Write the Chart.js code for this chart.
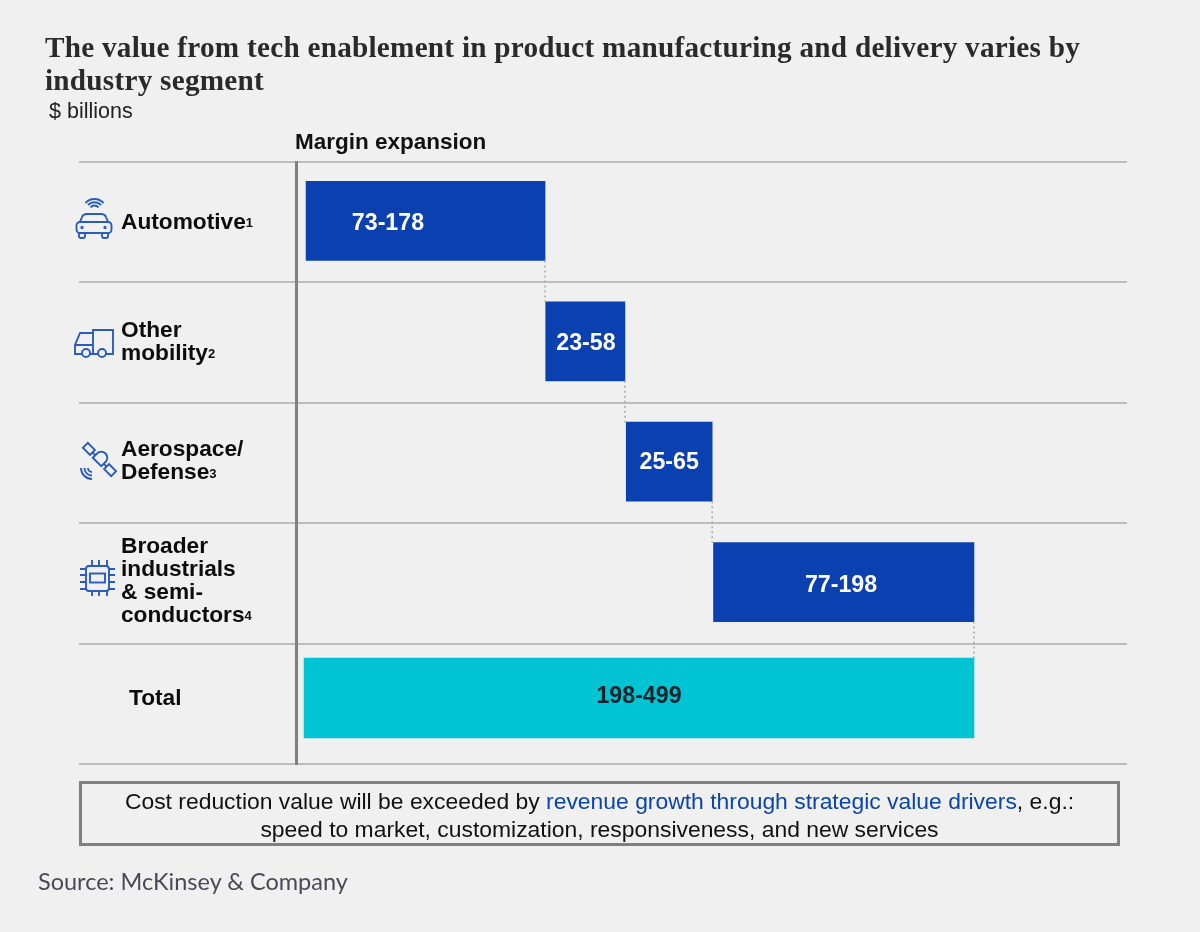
<!DOCTYPE html>
<html>
<head>
<meta charset="utf-8">
<script src="https://cdn.jsdelivr.net/npm/chart.js@4"></script>
<style>
  body { margin: 0; background: #f0f0f0; width: 1200px; height: 932px; overflow: hidden; position: relative; }
  canvas { position: absolute; left: 0; top: 0; }
  .note { position: absolute; white-space: nowrap; font-family: "Liberation Sans", sans-serif; }
  #title { left: 45px; top: 31px; font: bold 29.2px/33px "Liberation Serif", serif; letter-spacing: .26px; color: #2a2a2a; }
  #unit { left: 49px; top: 99px; font-size: 21.5px; color: #222; }
  #head { left: 295px; top: 129px; font-size: 22.5px; font-weight: bold; color: #111; }
  #callout { left: 79px; top: 781px; width: 1035px; height: 56px; border: 3px solid #808080; text-align: center; font-size: 22.9px; line-height: 28px; padding-top: 3px; color: #111; }
  #callout span { color: #0b44ae; }
  #source { left: 38px; top: 867px; font: 23.5px Lato, sans-serif; color: #4a4a57; }
  svg { position: absolute; left: 0; top: 0; }
  svg * { fill: none; stroke: #2a5cbd; stroke-width: 1.9; }
</style>
</head>
<body>
<canvas id="chart" width="1200" height="932"></canvas>
<svg width="1200" height="932" viewBox="0 0 1200 932">
  <!-- car -->
  <path d="M88 205a9 9 0 0 1 13 0M90.500 207.500a5 5 0 0 1 8 0M85.500 203a12 12 0 0 1 18 0"/>
  <path d="M80 222l2-5q1-3 5-3h14q4 0 5 3l2 5"/>
  <rect x="76.500" y="222" width="35" height="11" rx="3.500"/>
  <path d="M79 233v3q0 2 2 2h2q2 0 2-2v-3M102 233v3q0 2 2 2h2q2 0 2-2v-3"/>
  <circle cx="82" cy="227.500" r=".7"/><circle cx="105" cy="227.500" r=".7"/>
  <!-- truck -->
  <path d="M90 354h8M106 354h7v-24h-20v24"/>
  <path d="M82 354h-7v-9l5-12h13M75.500 345h17"/>
  <circle cx="86" cy="353" r="4"/><circle cx="102" cy="353" r="4"/>
  <!-- satellite -->
  <g transform="rotate(45 99.500 459.500)">
    <rect x="79.500" y="456" width="10" height="7"/>
    <rect x="109.500" y="456" width="10" height="7"/>
    <path d="M89.500 459.500h4M105.500 459.500h4"/>
    <path d="M93.500 463v-6a6 6 0 0 1 12 0v6z"/>
  </g>
  <path d="M88 468a4 4 0 0 0 4 4M84.500 468a7.500 7.500 0 0 0 7.500 7.500M81 468a11 11 0 0 0 11 11"/>
  <!-- chip -->
  <rect x="86" y="566" width="23" height="25" rx="3"/>
  <rect x="90" y="573.500" width="15" height="9"/>
  <path d="M80 569h6M80 575h6M80 582h6M80 589h6M109 569h6M109 575h6M109 582h6M109 589h6M92 560v6M99 560v6M107 560v6M92 591v5M99 591v5M107 591v5"/>
</svg>
<div class="note" id="title">The value from tech enablement in product manufacturing and delivery varies by<br>industry segment</div>
<div class="note" id="unit">$ billions</div>
<div class="note" id="head">Margin expansion</div>
<div class="note" id="callout">Cost reduction value will be exceeded by <span>revenue growth through strategic value drivers</span>, e.g.:<br>speed to market, customization, responsiveness, and new services</div>
<div class="note" id="source">Source: McKinsey &amp; Company</div>
<script>
const categories = [["Automotive"], ["Other", "mobility"], ["Aerospace/", "Defense"], ["Broader", "industrials", "& semi-", "conductors"], ["Total"]];
const footnotes = ["1", "2", "3", "4", ""];
const lowValues = [73, 23, 25, 77, 198];
const highValues = [178, 58, 65, 198, 499];
// bar extents, on the $ billions axis
const segmentStart = [1.5, 180, 240, 305];
const segmentEnd = [179.5, 239, 304, 499];
const totalStart = 0;
const totalEnd = 499;
// where each range label sits along the axis
const labelAt = [62.5, 210, 272, 400, 249.5];

const rangeLabels = lowValues.map((v, i) => v + "-" + highValues[i]);
const catFont = 'bold 22.7px "Liberation Sans"';
const barFont = 'bold 23.2px "Liberation Sans"';

const segmentData = segmentStart.map((s, i) => [s, segmentEnd[i]]).concat([null]);
const totalData = [null, null, null, null, [totalStart, totalEnd]];

// small vertical nudges so rows line up with the original
const rowShift = { 0: -1.3, 1: -5.8 };
const barLabelNudge = [2.5, 2, 1, 4, -1];
const catNudge = [0.7, -0.3, -1.3, -2.3, -4.8];

const waterfallPlugin = {
  id: "waterfall",
  beforeDatasetDraw(chart, args) {
    chart.ctx.save();
    chart.ctx.translate(0, rowShift[args.index]);
  },
  afterDatasetDraw(chart, args) {
    const ctx = chart.ctx, x = chart.scales.x, meta = args.meta;
    ctx.font = barFont;
    ctx.textAlign = "center";
    ctx.textBaseline = "middle";
    meta.data.forEach((bar, i) => {
      if (!chart.data.datasets[args.index].data[i]) return;
      ctx.fillStyle = args.index === 0 ? "#ffffff" : "#12222a";
      ctx.fillText(rangeLabels[i], x.getPixelForValue(labelAt[i]), bar.y + barLabelNudge[i]);
    });
    ctx.restore();
  },
  afterDraw(chart) {
    const ctx = chart.ctx, y = chart.scales.y, x = chart.scales.x;
    const seg = chart.getDatasetMeta(0).data, tot = chart.getDatasetMeta(1).data;
    // dotted connectors between the steps
    ctx.save();
    ctx.strokeStyle = "#a8a8a8";
    ctx.lineWidth = 1.5;
    ctx.setLineDash([2, 3]);
    for (let i = 0; i < 4; i++) {
      const next = i < 3 ? seg[i + 1] : tot[4];
      const nextShift = i < 3 ? rowShift[0] : rowShift[1];
      const px = x.getPixelForValue(segmentEnd[i]);
      ctx.beginPath();
      ctx.moveTo(px, seg[i].y + rowShift[0] + seg[i].height / 2);
      ctx.lineTo(px, next.y + nextShift - next.height / 2);
      ctx.stroke();
    }
    ctx.restore();
    // category labels with small footnote marks
    ctx.save();
    ctx.fillStyle = "#0c0c0c";
    ctx.textAlign = "left";
    ctx.textBaseline = "middle";
    categories.forEach((lines, i) => {
      const lineH = 23;
      const cy = y.getPixelForTick(i) + catNudge[i];
      const left = i === 4 ? 129 : 121;
      lines.forEach((line, k) => {
        const ly = cy + (k - (lines.length - 1) / 2) * lineH;
        ctx.font = catFont;
        ctx.fillText(line, left, ly);
        if (k === lines.length - 1 && footnotes[i]) {
          const w = ctx.measureText(line).width;
          ctx.font = 'bold 13px "Liberation Sans"';
          ctx.fillText(footnotes[i], left + w, ly + 1);
        }
      });
    });
    ctx.restore();
  }
};

new Chart(document.getElementById("chart").getContext("2d"), {
  type: "bar",
  data: {
    labels: categories.map(c => c.join(" ")),
    datasets: [
      { data: segmentData, backgroundColor: "#0a40b0", barThickness: 79, grouped: false },
      { data: totalData, backgroundColor: "#00c3d3", barThickness: 80, grouped: false }
    ]
  },
  options: {
    indexAxis: "y",
    responsive: false,
    animation: false,
    events: [],
    layout: { padding: { left: 79, top: 162, right: 73, bottom: 168 } },
    plugins: { legend: { display: false }, tooltip: { enabled: false } },
    scales: {
      x: { display: false, min: -6, max: 613 },
      y: {
        offset: true,
        afterFit(scale) { scale.width = 217; },
        ticks: { display: false },
        border: { display: true, color: "#808080", width: 3 },
        grid: { offset: true, color: "#bcbcbc", lineWidth: 2, tickLength: 217, drawOnChartArea: true }
      }
    }
  },
  plugins: [waterfallPlugin]
});
</script>
</body>
</html>
